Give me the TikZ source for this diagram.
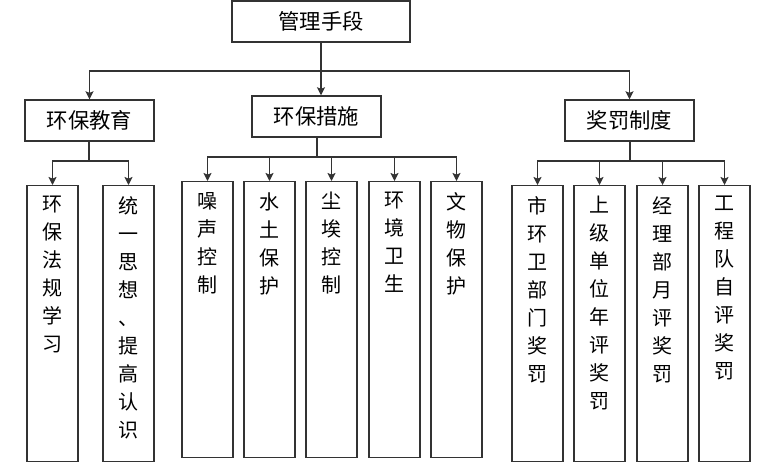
\documentclass[tikz,border=0pt]{standalone}
\usepackage{fontspec}
\setmainfont{Noto Sans CJK SC}
\usetikzlibrary{arrows.meta}
\definecolor{ln}{HTML}{333333}
\newcommand{\leaftext}[1]{\parbox[t][207pt][t]{38.25pt}{\centering\fontsize{15pt}{21pt}\selectfont\vspace*{8pt}#1}}
\tikzset{
  box/.style={draw=ln, line width=1.1pt, inner sep=0pt, minimum width=96.75pt, minimum height=30.75pt, font=\fontsize{16pt}{18pt}\selectfont},
  leaf/.style={draw=ln, line width=1.1pt, inner sep=0pt, anchor=north},
  conn/.style={draw=ln, line width=1pt},
  arr/.style={conn, -{Stealth[length=6pt,width=6pt,inset=1.2pt]}}
}
\begin{document}
\begin{tikzpicture}[x=0.75pt,y=-0.75pt]
\useasboundingbox (0,0) rectangle (760,464);
% top
\node[box, minimum width=133.5pt] (top) at (321,21.5) {管理手段};
% middle
\node[box] (m1) at (89.5,120.5) {环保教育};
\node[box] (m2) at (316.5,116.5) {环保措施};
\node[box] (m3) at (629.5,120.5) {奖罚制度};
% leaves
\node[leaf] (l11) at (52.5,185) {\leaftext{环\\保\\法\\规\\学\\习}};
\node[leaf] (l12) at (128.5,185) {\leaftext{统\\一\\思\\想\\、\\提\\高\\认\\识}};
\node[leaf] (l21) at (207.5,181) {\leaftext{噪\\声\\控\\制}};
\node[leaf] (l22) at (269.5,181) {\leaftext{水\\土\\保\\护}};
\node[leaf] (l23) at (331.5,181) {\leaftext{尘\\埃\\控\\制}};
\node[leaf] (l24) at (394.5,181) {\leaftext{环\\境\\卫\\生}};
\node[leaf] (l25) at (456.5,181) {\leaftext{文\\物\\保\\护}};
\node[leaf] (l31) at (537.5,185) {\leaftext{市\\环\\卫\\部\\门\\奖\\罚}};
\node[leaf] (l32) at (599.5,185) {\leaftext{上\\级\\单\\位\\年\\评\\奖\\罚}};
\node[leaf] (l33) at (662.5,185) {\leaftext{经\\理\\部\\月\\评\\奖\\罚}};
\node[leaf] (l34) at (724.5,185) {\leaftext{工\\程\\队\\自\\评\\奖\\罚}};
% junctions
\coordinate (j0) at (321,71);
\coordinate (b1) at (89,161);
\coordinate (b2) at (317,157);
\coordinate (b3) at (630,161);
% connectors
\draw[conn] (top.south -| j0) -- (j0);
\draw[arr] (j0) -- (m2.north -| j0);
\draw[arr] (j0) -| (m1);
\draw[arr] (j0) -| (m3);
\draw[conn] (m1.south -| b1) -- (b1);
\draw[arr] (b1) -| (l11);
\draw[arr] (b1) -| (l12);
\draw[conn] (m2.south -| b2) -- (b2);
\draw[arr] (b2) -| (l21);
\draw[arr] (b2) -| (l22);
\draw[arr] (b2) -| (l23);
\draw[arr] (b2) -| (l24);
\draw[arr] (b2) -| (l25);
\draw[conn] (m3.south -| b3) -- (b3);
\draw[arr] (b3) -| (l31);
\draw[arr] (b3) -| (l32);
\draw[arr] (b3) -| (l33);
\draw[arr] (b3) -| (l34);
\end{tikzpicture}
\end{document}
